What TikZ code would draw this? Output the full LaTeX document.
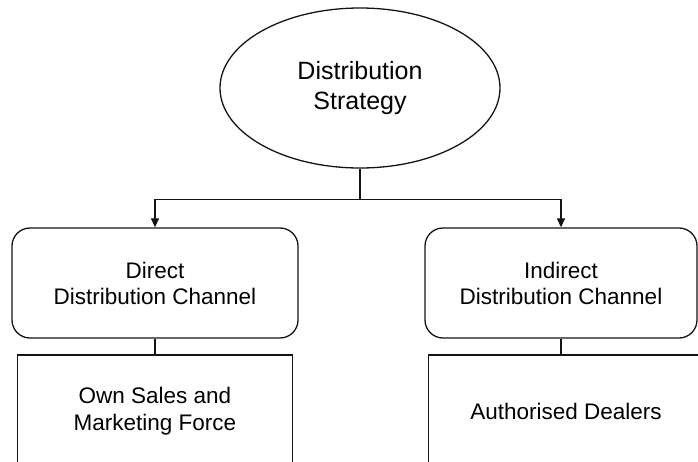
\documentclass[tikz,border=0pt]{standalone}
\usepackage{fontspec}
\setmainfont{Liberation Sans}
\usepackage{tikz}
\usetikzlibrary{arrows.meta,positioning,shapes.geometric,calc}
\usepackage{xcolor}
\definecolor{inkcolor}{RGB}{20,20,20}

\begin{document}
\begin{tikzpicture}[x=1pt, y=-1pt, line width=1.3pt, draw=inkcolor,
    strategybox/.style={ellipse, draw, minimum width=280pt, minimum height=160pt,
      inner sep=0pt, align=center, font=\fontsize{25}{30}\selectfont},
    channelbox/.style={rectangle, rounded corners=18pt, draw, minimum height=110pt,
      align=center, font=\fontsize{22.5}{26}\selectfont},
    meansbox/.style={rectangle, draw, minimum width=275pt, minimum height=112pt,
      align=center, font=\fontsize{22.5}{27}\selectfont},
    feed/.style={-{Triangle[length=9pt,width=8pt]}}]
        \def\rowA{283}
        \def\rowB{411}

        \useasboundingbox (0,0) rectangle (698,461);
        \clip (0,0) rectangle (698,461);

        % strategy
        \node[strategybox] (strategy) at (360,88) {Distribution\\Strategy};

        % channels
        \node[channelbox, minimum width=286pt] (direct)   at (155,\rowA) {Direct\\Distribution Channel};
        \node[channelbox, minimum width=272pt] (indirect) at (561,\rowA) {Indirect\\Distribution Channel};

        % means
        \node[meansbox] (ownsales) at (155,\rowB) {Own Sales and\\Marketing Force};
        \node[meansbox] (dealers)  at (566,\rowB) {Authorised Dealers};

        % connectors
        \draw (strategy.south) -- ++(0,31) coordinate (split);
        \draw[feed] (split) -| (direct.north);
        \draw[feed] (split) -| (indirect.north);
        \draw (direct.south) -- (ownsales.north);
        \draw (indirect.south) -- (indirect.south |- dealers.north);
\end{tikzpicture}
\end{document}
